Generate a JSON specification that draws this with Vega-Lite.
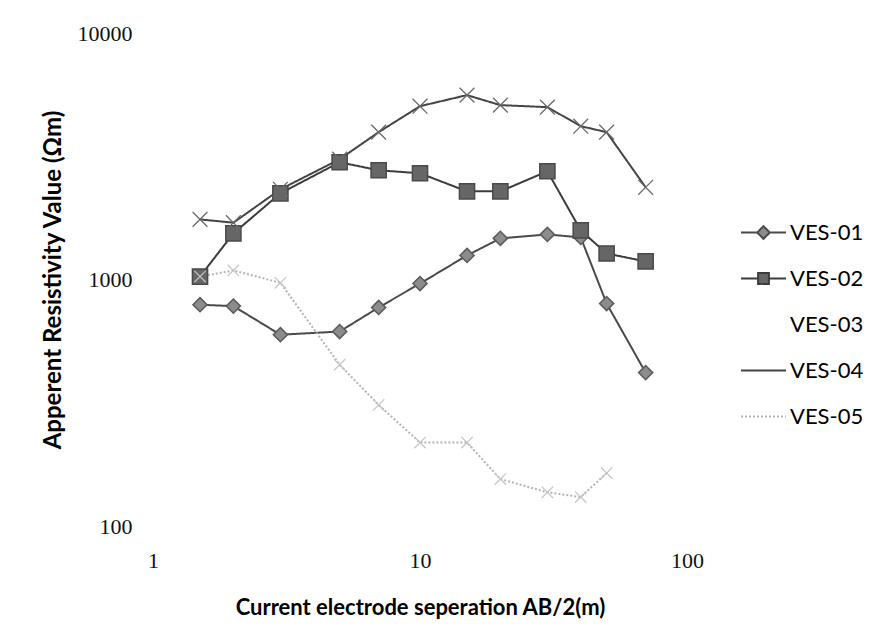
{
  "$schema": "https://vega.github.io/schema/vega-lite/v6.json",
  "width": 534,
  "height": 493,
  "autosize": "none",
  "padding": {"left": 153, "top": 33, "right": 183, "bottom": 113},
  "background": "#ffffff",
  "config": {"view": {"stroke": null}},
  "data": {"values": [
    {"s": "VES-01", "x": 1.5, "y": 790}, {"s": "VES-01", "x": 2, "y": 780}, {"s": "VES-01", "x": 3, "y": 597},
    {"s": "VES-01", "x": 5, "y": 615}, {"s": "VES-01", "x": 7, "y": 770}, {"s": "VES-01", "x": 10, "y": 963},
    {"s": "VES-01", "x": 15, "y": 1252}, {"s": "VES-01", "x": 20, "y": 1468}, {"s": "VES-01", "x": 30, "y": 1524},
    {"s": "VES-01", "x": 40, "y": 1481}, {"s": "VES-01", "x": 50, "y": 799}, {"s": "VES-01", "x": 70, "y": 419},
    {"s": "VES-02", "x": 1.5, "y": 1028}, {"s": "VES-02", "x": 2, "y": 1538}, {"s": "VES-02", "x": 3, "y": 2237},
    {"s": "VES-02", "x": 5, "y": 2990}, {"s": "VES-02", "x": 7, "y": 2774}, {"s": "VES-02", "x": 10, "y": 2697},
    {"s": "VES-02", "x": 15, "y": 2278}, {"s": "VES-02", "x": 20, "y": 2278}, {"s": "VES-02", "x": 30, "y": 2748},
    {"s": "VES-02", "x": 40, "y": 1582}, {"s": "VES-02", "x": 50, "y": 1275}, {"s": "VES-02", "x": 70, "y": 1184},
    {"s": "VES-04", "x": 1.5, "y": 1753}, {"s": "VES-04", "x": 2, "y": 1700}, {"s": "VES-04", "x": 3, "y": 2322},
    {"s": "VES-04", "x": 5, "y": 3075}, {"s": "VES-04", "x": 7, "y": 3960}, {"s": "VES-04", "x": 10, "y": 5048},
    {"s": "VES-04", "x": 15, "y": 5598}, {"s": "VES-04", "x": 20, "y": 5097}, {"s": "VES-04", "x": 30, "y": 5003},
    {"s": "VES-04", "x": 40, "y": 4188}, {"s": "VES-04", "x": 50, "y": 3960}, {"s": "VES-04", "x": 70, "y": 2366},
    {"s": "VES-05", "x": 1.5, "y": 1028}, {"s": "VES-05", "x": 2, "y": 1088}, {"s": "VES-05", "x": 3, "y": 970},
    {"s": "VES-05", "x": 5, "y": 451}, {"s": "VES-05", "x": 7, "y": 310}, {"s": "VES-05", "x": 10, "y": 218},
    {"s": "VES-05", "x": 15, "y": 218}, {"s": "VES-05", "x": 20, "y": 155}, {"s": "VES-05", "x": 30, "y": 137},
    {"s": "VES-05", "x": 40, "y": 131}, {"s": "VES-05", "x": 50, "y": 164}
  ]},
  "encoding": {
    "x": {
      "field": "x", "type": "quantitative",
      "scale": {"type": "log", "domain": [1, 100], "nice": false},
      "axis": {
        "values": [1, 10, 100], "format": "d", "grid": false, "domain": false, "ticks": false,
        "labelPadding": 24, "labelFont": "Liberation Serif", "labelFontSize": 22, "labelColor": "#111",
        "labelFlush": false, "labelOverlap": false,
        "title": "Current electrode seperation  AB/2(m)", "titleFont": "Lato", "titleFontSize": 22,
        "titleFontWeight": "bold", "titleColor": "#000", "titlePadding": 26
      }
    },
    "y": {
      "field": "y", "type": "quantitative",
      "scale": {"type": "log", "domain": [100, 10000], "nice": false},
      "axis": {
        "values": [100, 1000, 10000], "format": "d", "grid": false, "domain": false, "ticks": false,
        "labelPadding": 21, "labelFont": "Liberation Serif", "labelFontSize": 22, "labelColor": "#111",
        "labelFlush": false, "labelOverlap": false,
        "title": "Apperent Resistivity Value (Ωm)", "titleFont": "Lato", "titleFontSize": 24,
        "titleFontWeight": "bold", "titleColor": "#000", "titlePadding": 12
      }
    }
  },
  "layer": [
    {
      "mark": {"type": "line", "strokeWidth": 2},
      "encoding": {
        "color": {
          "field": "s", "type": "nominal",
          "scale": {"domain": ["VES-01", "VES-02", "VES-03", "VES-04", "VES-05"],
                    "range": ["#4a4a4a", "#3c3c3c", "#ffffff", "#444444", "#b4b4b4"]},
          "legend": {
            "title": null, "orient": "none", "legendX": 587, "legendY": 176,
            "padding": 0, "symbolSize": 2025, "symbolStrokeWidth": 2, "rowPadding": 11,
            "labelFont": "Lato", "labelFontSize": 22, "labelColor": "#000", "labelOffset": 3,
            "encode": {
              "symbols": {"update": {
                "shape": {"signal": "datum.value === 'VES-01' ? 'M-1,0L-0.28,0M0.28,0L1,0M0,-0.28L0.28,0L0,0.28L-0.28,0Z' : datum.value === 'VES-02' ? 'M-1,0L-0.24,0M0.24,0L1,0M-0.24,-0.24L0.24,-0.24L0.24,0.24L-0.24,0.24Z' : datum.value === 'VES-03' ? 'M0,0' : 'M-1,0L1,0'"},
                "fill": {"signal": "datum.value === 'VES-01' ? '#8c8c8c' : datum.value === 'VES-02' ? '#666666' : 'transparent'"},
                "strokeDash": {"signal": "datum.value === 'VES-05' ? [2, 2] : [1, 0]"},
                "opacity": {"value": 1}
              }}
            }
          }
        },
        "strokeDash": {
          "field": "s", "type": "nominal",
          "scale": {"domain": ["VES-01", "VES-02", "VES-03", "VES-04", "VES-05"],
                    "range": [[1, 0], [1, 0], [1, 0], [1, 0], [2, 2]]},
          "legend": null
        }
      }
    },
    {
      "transform": [{"filter": {"field": "s", "equal": "VES-01"}}],
      "mark": {"type": "point", "shape": "diamond", "filled": true, "fill": "#8c8c8c", "stroke": "#5a5a5a", "strokeWidth": 1.5, "size": 200, "opacity": 1}
    },
    {
      "transform": [{"filter": {"field": "s", "equal": "VES-02"}}],
      "mark": {"type": "point", "shape": "square", "filled": true, "fill": "#666666", "stroke": "#4a4a4a", "strokeWidth": 1.5, "size": 230, "opacity": 1}
    },
    {
      "transform": [{"filter": {"field": "s", "equal": "VES-04"}}],
      "mark": {"type": "point", "shape": "M-1,-1L1,1M-1,1L1,-1", "filled": false, "stroke": "#6a6a6a", "strokeWidth": 1.3, "size": 220, "opacity": 1}
    },
    {
      "transform": [{"filter": {"field": "s", "equal": "VES-05"}}],
      "mark": {"type": "point", "shape": "M-1,-1L1,1M-1,1L1,-1", "filled": false, "stroke": "#c4c4c4", "strokeWidth": 1.2, "size": 130, "opacity": 1}
    }
  ]
}
